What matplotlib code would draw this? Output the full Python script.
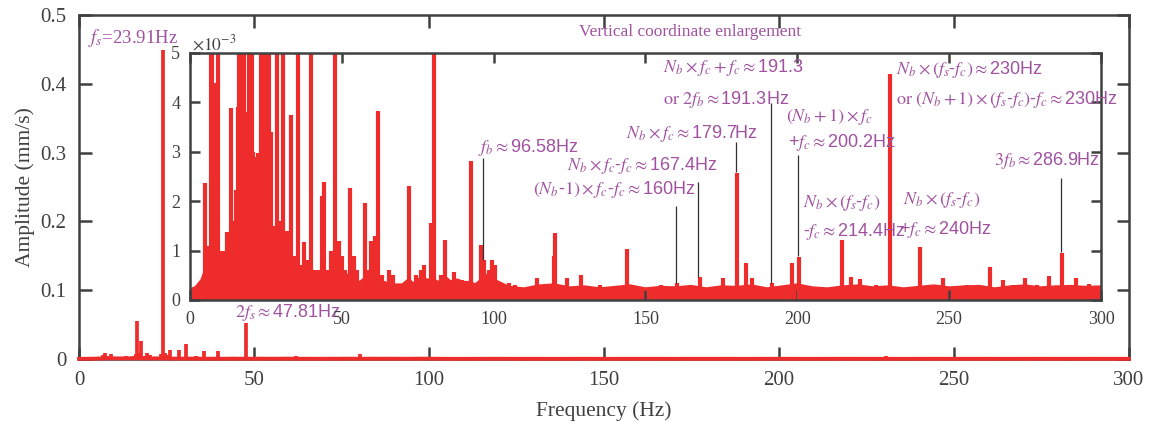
import numpy as np
import matplotlib
matplotlib.use('Agg')
import matplotlib.pyplot as plt

# ------------------------------------------------------------
# Spectrum, amplitude in mm/s
peak_freq = [4.8, 6.2, 6.9, 7.3, 8.1, 9.2, 10.3, 11.0, 12.3, 13.4, 14.4, 15.3, 15.8, 16.3,
             16.6, 17.1, 17.8, 18.7, 19.3, 20.3, 20.9, 21.6, 22.4, 23.5, 23.91, 24.5, 25.2,
             26.0, 26.7, 27.4, 28.5, 29.2, 29.8, 30.7, 31.6, 32.4, 33.4, 34.3, 35.0, 35.6,
             36.4, 37.6, 38.6, 39.8, 40.8, 42.0, 43.6, 44.2, 45.5, 46.6, 47.81, 49.0, 50.2,
             51.0, 52.8, 54.0, 55.0, 57.5, 58.3, 59.7, 60.8, 62.0, 63.2, 65.5, 67.0, 69.5,
             72.2, 74.5, 76.0, 77.0, 79.3, 80.2, 82.5, 83.9, 86.0, 87.0, 89.5, 92.5, 95.9,
             96.9, 98.6, 99.6, 100.6, 105.0, 107.0, 110.0, 114.3, 119.8, 120.3, 124.2, 128.7,
             135.0, 144.0, 149.0, 155.0, 160.4, 164.0, 167.8, 172.0, 175.6, 180.2, 183.0,
             185.0, 191.6, 198.4, 200.6, 214.7, 217.8, 220.7, 226.0, 230.5, 240.3, 247.9,
             256.0, 263.3, 267.7, 271.0, 274.9, 279.0, 282.8, 287.3, 291.6, 296.0]
peak_amp = [0.00237, 0.0011, 0.0060, 0.0080, 0.0044, 0.0078, 0.0010, 0.0010, 0.00138, 0.00388,
            0.0016, 0.00223, 0.0039, 0.0070, 0.0557, 0.0090, 0.0260, 0.0038, 0.0087, 0.0060,
            0.0030, 0.0029, 0.00297, 0.0070, 0.449, 0.0080, 0.0065, 0.0127, 0.0034, 0.0015,
            0.0130, 0.0014, 0.0016, 0.0218, 0.0014, 0.0014, 0.00374, 0.0009, 0.0008, 0.0116,
            0.0007, 0.00118, 0.0008, 0.0116, 0.0006, 0.0006, 0.0021, 0.00239, 0.0006, 0.0010,
            0.0519, 0.00120, 0.0009, 0.0006, 0.00227, 0.0009, 0.0006, 0.00196, 0.0006, 0.0012,
            0.0013, 0.00383, 0.0005, 0.0006, 0.0005, 0.0003, 0.0023, 0.0005, 0.0006, 0.0007,
            0.00155, 0.0073, 0.0005, 0.00121, 0.0004, 0.00056, 0.0004, 0.00282, 0.00111,
            0.0008, 0.0006, 0.0008, 0.0007, 0.00035, 0.0003, 0.00025, 0.00045, 0.0009,
            0.00135, 0.00045, 0.0005, 0.0003, 0.00103, 0.00025, 0.0003, 0.00034, 0.00025,
            0.00046, 0.00027, 0.00045, 0.00258, 0.00074, 0.00045, 0.00035, 0.00074, 0.00088,
            0.00121, 0.00047, 0.00042, 0.0003, 0.00457, 0.00108, 0.00045, 0.0003, 0.00066,
            0.00041, 0.0003, 0.00044, 0.0003, 0.00048, 0.00095, 0.00045, 0.00033]

# noise floor of the spectrum
floor_freq = [0, 2, 4, 6, 8, 10, 12, 14, 16, 18, 20, 22, 24, 26, 28, 30, 32, 34, 36, 38, 40,
              42, 44, 46, 48, 50, 52, 54, 56, 58, 60, 62, 64, 66, 68, 70, 72, 74, 76, 78, 80,
              82, 84, 86, 88, 90, 92, 94, 96, 98, 100, 105, 110, 115, 120, 125, 130, 135, 140,
              145, 150, 155, 160, 165, 170, 175, 180, 185, 190, 195, 200, 205, 210, 215, 220,
              225, 230, 235, 240, 245, 250, 255, 260, 265, 270, 275, 280, 285, 290, 295, 300]
floor_amp = [0.00020, 0.00025, 0.00040, 0.00075, 0.00095, 0.00095, 0.00085, 0.00095, 0.00110,
             0.00090, 0.00075, 0.00090, 0.00080, 0.00060, 0.00065, 0.00050, 0.00060, 0.00045,
             0.00040, 0.00045, 0.00035, 0.00035, 0.00055, 0.00035, 0.00045, 0.00035, 0.00050,
             0.00040, 0.00035, 0.00045, 0.00055, 0.00030, 0.00035, 0.00030, 0.00030, 0.00030,
             0.00040, 0.00030, 0.00045, 0.00040, 0.00040, 0.00035, 0.00045, 0.00035, 0.00040,
             0.00035, 0.00035, 0.00030, 0.00040, 0.00050, 0.00040, 0.00025, 0.00022, 0.00028,
             0.00030, 0.00024, 0.00026, 0.00022, 0.00025, 0.00028, 0.00022, 0.00025, 0.00024,
             0.00027, 0.00022, 0.00026, 0.00025, 0.00028, 0.00022, 0.00026, 0.00030, 0.00024,
             0.00022, 0.00026, 0.00028, 0.00024, 0.00026, 0.00022, 0.00025, 0.00028, 0.00024,
             0.00026, 0.00027, 0.00022, 0.00026, 0.00028, 0.00024, 0.00026, 0.00027, 0.00025,
             0.00026]

main_xticks = [0, 50, 100, 150, 200, 250, 300]
main_yticks = [0, 0.1, 0.2, 0.3, 0.4, 0.5]
main_yticklabels = ['0', '0.1', '0.2', '0.3', '0.4', '0.5']
inset_yticks = [0, 1, 2, 3, 4, 5]   # in units of 1e-3

# marked frequencies and the leader line span (1e-3 mm/s)
mark_freq = [96.58, 160, 167.4, 179.7, 191.3, 200.2, 286.9]
mark_bottom = [0.81, 0.34, 0.47, 2.60, 0.34, 0.89, 0.97]
mark_top = [2.87, 1.91, 2.39, 3.20, 3.98, 2.94, 2.47]

RED = '#EE2C2C'
PURPLE = '#A052A0'
GRAY = '#404040'

plt.rcParams['font.family'] = 'Liberation Serif'
plt.rcParams['mathtext.fontset'] = 'stix'

fig = plt.figure(figsize=(11.5, 4.26), dpi=100)

# ------------------------------------------------------------
# main axes
ax = fig.add_axes([0.0687, 0.1573, 0.9130, 0.8075])
ax.plot(floor_freq, floor_amp, color=RED, lw=2.8, clip_on=False, zorder=3)
ax.vlines(peak_freq, 0, peak_amp, color=RED, lw=2.7, zorder=3)
ax.set_xlim(0, 300)
ax.set_ylim(0, 0.5)
ax.set_xticks(main_xticks)
ax.set_yticks(main_yticks)
ax.set_yticklabels(main_yticklabels)
ax.tick_params(direction='in', length=9, width=1.8, top=True, right=True,
               labelsize=15, colors=GRAY, pad=9)
for sp in ax.spines.values():
    sp.set_linewidth(1.8)
    sp.set_color(GRAY)
ax.set_xlabel('Frequency (Hz)', fontsize=15.5, color=GRAY, labelpad=8)
ax.set_ylabel('Amplitude (mm/s)', fontsize=15.5, color=GRAY, labelpad=4)

ax.text(2.6, 0.467, r'$f_s$=23.91Hz', color=PURPLE, fontsize=13.5, ha='left', va='center')
ax.text(44.6, 0.0669, r'$2f_s\approx$47.81Hz', color=PURPLE, fontsize=13,
        family='Liberation Sans', ha='left', va='center', zorder=10)
ax.text(174.6, 0.475, 'Vertical coordinate enlargement', color=PURPLE, fontsize=12.5,
        ha='center', va='center')

# ------------------------------------------------------------
# inset: vertical coordinate enlargement
ins = fig.add_axes([0.1652, 0.2958, 0.7922, 0.5798])
floor_e3 = np.array(floor_amp) * 1e3
peak_e3 = np.array(peak_amp) * 1e3
ins.fill_between(floor_freq, 0, floor_e3, color=RED, lw=0)
ins.plot(floor_freq, floor_e3, color=RED, lw=2.6)
ins.vlines(peak_freq, 0, peak_e3, color=RED, lw=3.0)
ins.vlines(mark_freq, mark_bottom, mark_top, color='#303030', lw=0.9, zorder=4)
ins.set_xlim(0, 300)
ins.set_ylim(0, 5)
ins.set_xticks(main_xticks)
ins.set_yticks(inset_yticks)
ins.tick_params(direction='in', length=7.5, width=1.8, top=True, right=True,
                labelsize=13, colors=GRAY)
ins.tick_params(axis='y', pad=7)
ins.tick_params(axis='x', pad=8)
for sp in ins.spines.values():
    sp.set_linewidth(1.8)
    sp.set_color(GRAY)
ins.text(0.7, 5.18, r'$\times10^{\mathrm{-3}}$', color=GRAY, fontsize=12.5,
         ha='left', va='center')

labels = [
    (94.9, 3.08, r'$f_b\approx$96.58Hz'),
    (143.7, 3.38, r'$N_b\times f_c\approx$179.7Hz'),
    (124.3, 2.73, r'$N_b\times f_c$-$f_c\approx$167.4Hz'),
    (113.1, 2.23, r'$(N_b$-$1)\times f_c$-$f_c\approx$160Hz'),
    (155.6, 4.70, r'$N_b\times f_c+f_c\approx$191.3'),
    (155.6, 4.05, r'$\mathrm{or}\ 2f_b\approx$191.3Hz'),
    (196.2, 3.70, r'$(N_b+1)\times f_c$'),
    (196.8, 3.18, r'+$f_c\approx$200.2Hz'),
    (232.4, 4.66, r'$N_b\times(f_s$-$f_c)\approx$230Hz'),
    (232.4, 4.05, r'$\mathrm{or}\ (N_b+1)\times(f_s$-$f_c)$-$f_c\approx$230Hz'),
    (264.7, 2.83, r'$3f_b\approx$286.9Hz'),
    (201.8, 1.96, r'$N_b\times(f_s$-$f_c)$'),
    (201.8, 1.38, r'-$f_c\approx$214.4Hz'),
    (234.7, 2.02, r'$N_b\times(f_s$-$f_c)$'),
    (233.4, 1.42, r'+$f_c\approx$240Hz'),
]
for x, y, s in labels:
    ins.text(x, y, s, color=PURPLE, fontsize=13, family='Liberation Sans',
             ha='left', va='center', zorder=5)

fig.savefig('out.png', dpi=100)
